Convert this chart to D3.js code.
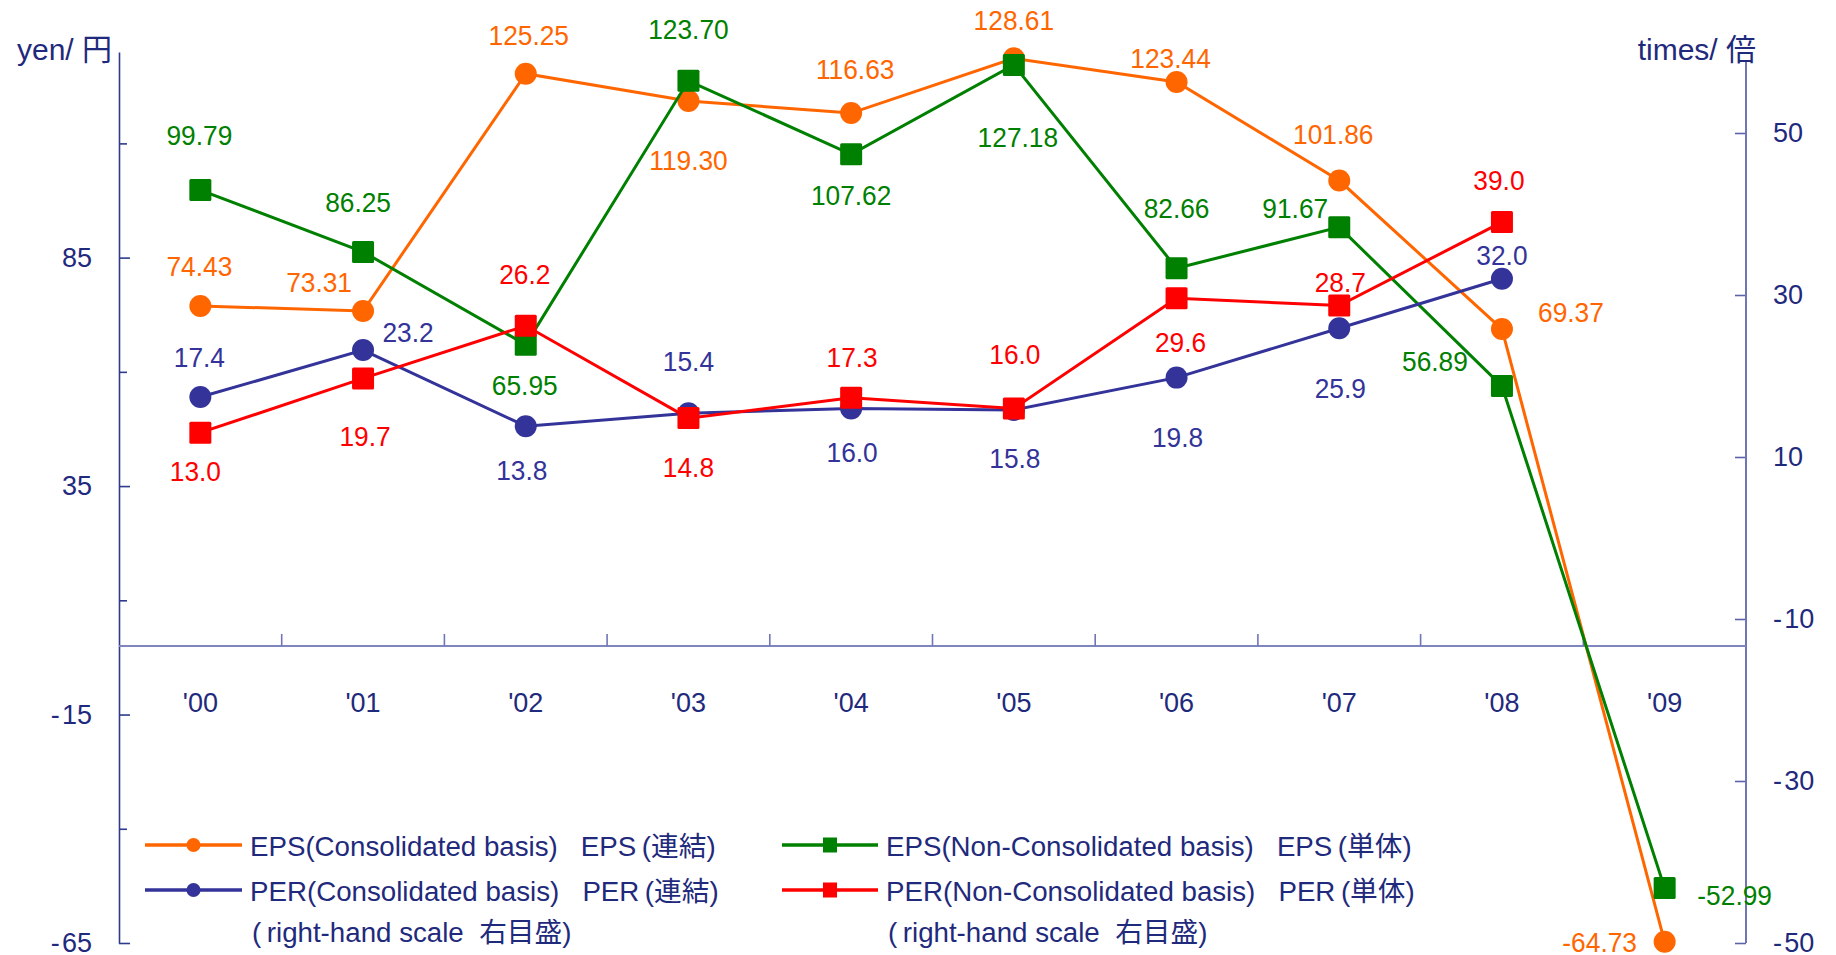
<!DOCTYPE html>
<html><head><meta charset="utf-8">
<script src="https://cdn.jsdelivr.net/npm/d3@7"></script>
<style>
html,body{margin:0;padding:0;background:#fff;}
svg{display:block;font-family:"Liberation Sans",Arial,"Noto Sans CJK JP",sans-serif;}
text{white-space:pre;}
</style></head><body>
<svg id="c" width="1836" height="955"></svg>
<script>
// ---------- data ----------
const years = ["'00","'01","'02","'03","'04","'05","'06","'07","'08","'09"];
const epsConsolidated    = [74.43, 73.31, 125.25, 119.30, 116.63, 128.61, 123.44, 101.86, 69.37, -64.73];
const epsNonConsolidated = [99.79, 86.25, 65.95, 123.70, 107.62, 127.18, 82.66, 91.67, 56.89, -52.99];
const perConsolidated    = [17.4, 23.2, 13.8, 15.4, 16.0, 15.8, 19.8, 25.9, 32.0, null];
const perNonConsolidated = [13.0, 19.7, 26.2, 14.8, 17.3, 16.0, 29.6, 28.7, 39.0, null];
const leftTicks = [-65, -40, -15, 10, 35, 60, 85, 110];
const leftLabelled = [-65, -15, 35, 85];
const rightTicks = [-50, -30, -10, 10, 30, 50];
const leftTitle = "yen/ 円";
const rightTitle = "times/ 倍";
const legendNames = [
  "EPS(Consolidated basis)\u00a0\u00a0\u00a0EPS\u2009(連結)",
  "EPS(Non-Consolidated basis)\u00a0\u00a0\u00a0EPS\u2009(単体)",
  "PER(Consolidated basis)\u00a0\u00a0\u00a0PER\u2009(連結)",
  "PER(Non-Consolidated basis)\u00a0\u00a0\u00a0PER\u2009(単体)"
];
const legendNote = "(\u2009right-hand scale\u00a0\u00a0右目盛)";

// ---------- layout (label offsets relative to point) ----------
const offEpsC = [[-1,-40],[-44,-29],[3,-39],[0,59],[4,-44],[0,-38],[-6,-24],[-6,-47],[69,-17],[-65,0]];
const offEpsN = [[-1,-55],[-5,-50],[-1,40],[0,-52],[0,41],[4,72],[0,-60],[-44,-19],[-67,-25],[70,7]];
const offPerC = [[-1,-40],[45,-18],[-4,44],[0,-52],[1,44],[1,48],[1,59],[1,60],[0,-24]];
const offPerN = [[-5,38],[2,58],[-1,-52],[0,49],[1,-41],[1,-54],[4,44],[1,-24],[-3,-42]];

const navyText = "#1F2A7C";
const svg = d3.select('#c');
const plotL = 119, plotR = 1746, plotT = 52, plotB = 943;
const x = d3.scaleBand().domain(years).range([plotL, plotR]);
const cx = d => x(d) + x.bandwidth()/2;
const yL = d3.scaleLinear().domain([-65, 130]).range([plotB, plotT]);
const yR = d3.scaleLinear().domain([-50, 60]).range([plotB, plotT]);
const fmtAxis = d => d < 0 ? "-\u200a" + Math.abs(d) : String(d);

// left axis
const gL = svg.append('g').attr('transform', `translate(${plotL},0)`)
  .call(d3.axisLeft(yL).tickValues(leftTicks).tickSizeInner(-11).tickSizeOuter(0).tickPadding(27)
    .tickFormat(d => leftLabelled.includes(d) ? fmtAxis(d) : ""));
gL.attr('font-family', null).attr('font-size', 27);
gL.select('.domain').attr('stroke', '#2E3A8C').attr('stroke-width', 1.6);
gL.selectAll('.tick line').attr('stroke', '#2E3A8C').attr('stroke-width', 1.6);
gL.selectAll('.tick').filter(d => !leftLabelled.includes(d)).select('line').attr('x2', 8);
gL.selectAll('.tick text').attr('fill', navyText).attr('x', -27);

// right axis
const gR = svg.append('g').attr('transform', `translate(${plotR},0)`)
  .call(d3.axisRight(yR).tickValues(rightTicks).tickSizeInner(-11).tickSizeOuter(0).tickPadding(27)
    .tickFormat(fmtAxis));
gR.attr('font-family', null).attr('font-size', 27);
gR.select('.domain').remove();
gR.selectAll('.tick line').attr('stroke', '#5A62A8').attr('stroke-width', 1.6);
gR.selectAll('.tick text').attr('fill', navyText).attr('x', 27);
svg.append('line').attr('x1', plotR).attr('x2', plotR).attr('y1', 61).attr('y2', plotB)
  .attr('stroke', '#6F76B6').attr('stroke-width', 2);

// x axis at zero of left scale
const y0 = yL(0);
svg.append('line').attr('x1', plotL).attr('x2', plotR).attr('y1', y0).attr('y2', y0)
  .attr('stroke', '#7F86BF').attr('stroke-width', 2.2);
const bounds = years.slice(1).map(d => x(d)).concat([plotR]);
svg.append('g').selectAll('line').data(bounds).join('line')
  .attr('x1', d => d).attr('x2', d => d).attr('y1', y0 - 12).attr('y2', y0)
  .attr('stroke', '#6F76B6').attr('stroke-width', 1.6);
svg.append('g').selectAll('text').data(years).join('text')
  .attr('x', d => cx(d)).attr('y', 712).attr('text-anchor', 'middle')
  .attr('font-size', 27).attr('fill', navyText).text(d => d);

// titles
svg.append('text').attr('x', 17).attr('y', 60).attr('font-size', 30).attr('fill', navyText).text(leftTitle);
svg.append('text').attr('x', 1756).attr('y', 60).attr('text-anchor', 'end').attr('font-size', 30).attr('fill', navyText).text(rightTitle);

// series
const f2 = d3.format('.2f'), f1 = d3.format('.1f');
const series = [
  {values: epsConsolidated, scale: yL, color: '#FF6600', marker: 'circle', fmt: f2, off: offEpsC},
  {values: epsNonConsolidated, scale: yL, color: '#008000', marker: 'square', fmt: f2, off: offEpsN},
  {values: perConsolidated, scale: yR, color: '#333399', marker: 'circle', fmt: f1, off: offPerC},
  {values: perNonConsolidated, scale: yR, color: '#FF0000', marker: 'square', fmt: f1, off: offPerN}
];
series.forEach(s => {
  const pts = years.map((yr, i) => ({yr, v: s.values[i], i})).filter(p => p.v != null);
  const line = d3.line().x(p => cx(p.yr)).y(p => s.scale(p.v));
  const g = svg.append('g');
  g.append('path').attr('d', line(pts)).attr('fill', 'none').attr('stroke', s.color).attr('stroke-width', 3);
  if (s.marker === 'circle') {
    g.selectAll('circle').data(pts).join('circle')
      .attr('cx', p => cx(p.yr)).attr('cy', p => s.scale(p.v)).attr('r', 11).attr('fill', s.color);
  } else {
    g.selectAll('rect').data(pts).join('rect')
      .attr('x', p => cx(p.yr) - 11).attr('y', p => s.scale(p.v) - 11).attr('width', 22).attr('height', 22)
      .attr('rx', 1.5).attr('fill', s.color);
  }
});
series.forEach(s => {
  const pts = years.map((yr, i) => ({yr, v: s.values[i], i})).filter(p => p.v != null);
  svg.append('g').selectAll('text').data(pts).join('text')
    .attr('transform', p => `translate(${cx(p.yr) + s.off[p.i][0]},${s.scale(p.v) + s.off[p.i][1] + 10}) scale(0.94,1)`)
    .attr('text-anchor', 'middle').attr('font-size', 28).attr('fill', s.color)
    .text(p => s.fmt(p.v).replace('\u2212', '-'));
});

// legend
const legCols = [{x0: 145, x1: 242, tx: 250}, {x0: 782, x1: 878, tx: 886}];
const legRows = [845, 890];
const legOrder = [[0, 0, 0], [1, 1, 0], [2, 0, 1], [3, 1, 1]]; // series idx, col, row
legOrder.forEach(([si, ci, ri]) => {
  const s = series[si], c = legCols[ci], ly = legRows[ri];
  const g = svg.append('g');
  g.append('line').attr('x1', c.x0).attr('x2', c.x1).attr('y1', ly).attr('y2', ly)
    .attr('stroke', s.color).attr('stroke-width', 3.5);
  const mx = (c.x0 + c.x1) / 2;
  if (s.marker === 'circle') g.append('circle').attr('cx', mx).attr('cy', ly).attr('r', 7).attr('fill', s.color);
  else g.append('rect').attr('x', mx - 7).attr('y', ly - 7.5).attr('width', 14).attr('height', 15).attr('fill', s.color);
  g.append('text').attr('x', c.tx).attr('y', ly + 11).attr('font-size', 27.7).attr('fill', navyText).text(legendNames[si]);
});
legCols.forEach(c => {
  svg.append('text').attr('x', c.tx + 2).attr('y', 942).attr('font-size', 27.7).attr('fill', navyText).text(legendNote);
});
</script>
</body></html>
